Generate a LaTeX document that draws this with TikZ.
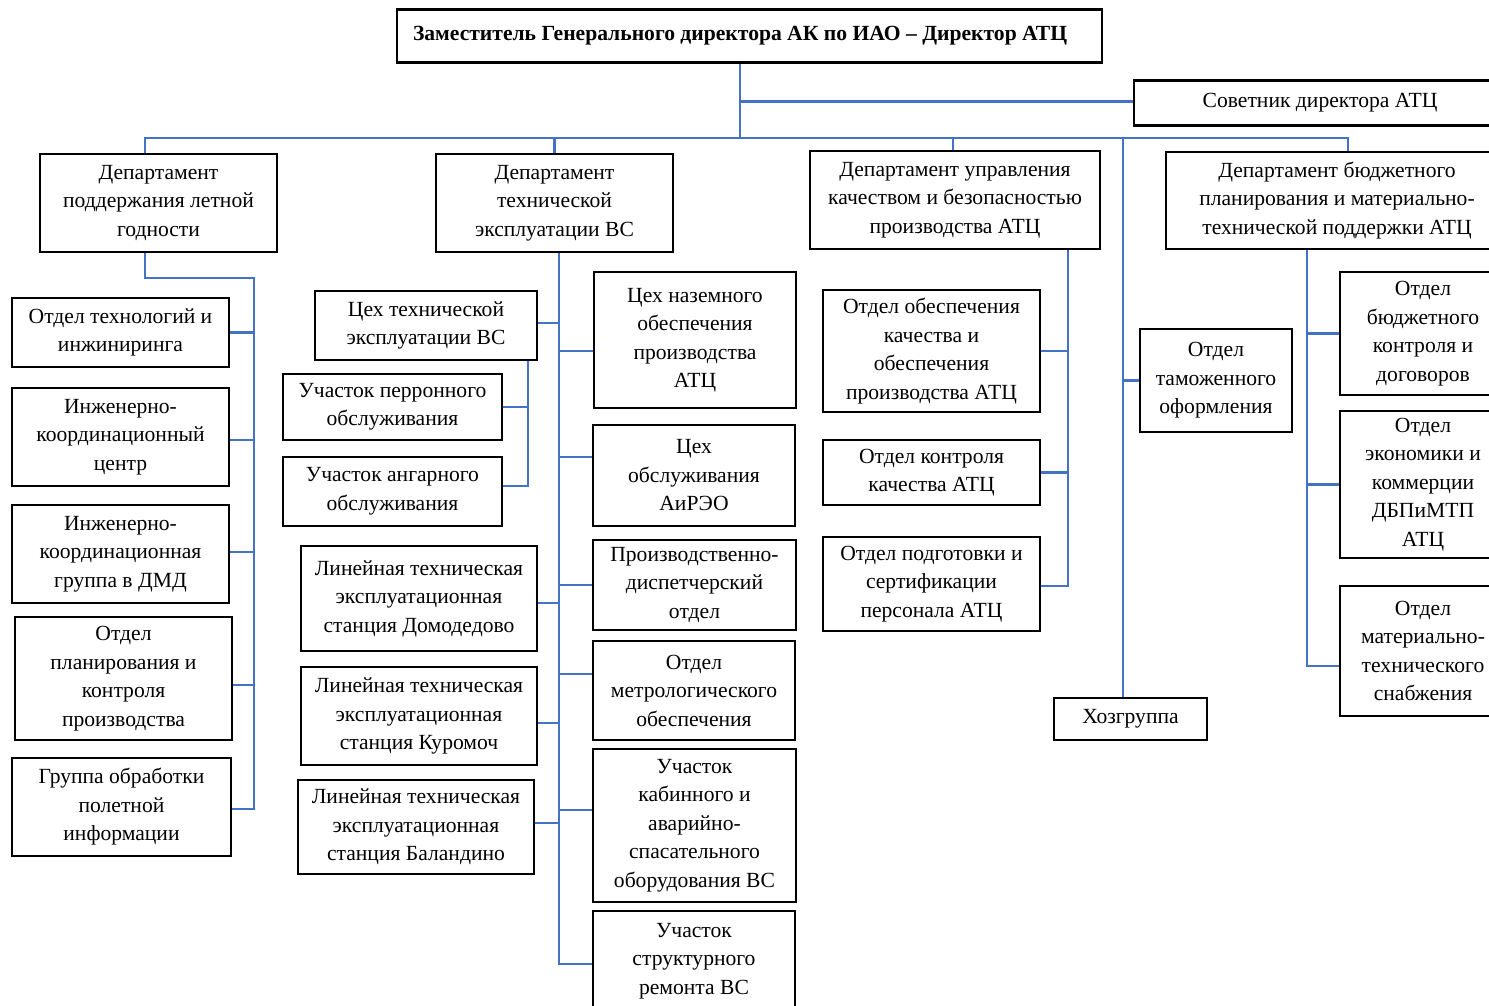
\documentclass[tikz,border=0pt]{standalone}
\usepackage{fontspec}
\setmainfont{Liberation Serif}
\definecolor{linkblue}{RGB}{68,114,196}
\tikzset{
  unit/.style={draw, line width=2.5pt, align=center, inner sep=0pt, font=\fontsize{21.6}{28.5}\selectfont},
  sz/.style 2 args={minimum width=#1, minimum height=#2},
  link/.style={draw=linkblue, line width=2.2pt}
}

\begin{document}
\begin{tikzpicture}[x=1pt, y=-1pt]
  \fill[white] (0,0) rectangle (1489,1006);
  \useasboundingbox (0,0) rectangle (1489,1006);
  \clip (0,0) rectangle (1489,1006);

  % Top
  \node[unit, minimum height=53, text width=673, inner xsep=16, align=flush left,
        font=\fontsize{21.6}{28.5}\selectfont\bfseries] (top) at (749.5,36) {Заместитель Генерального директора АК по ИАО – Директор АТЦ};
  \node[unit, sz={372}{45}] (sov) at (1320,103) {Советник директора АТЦ};
  \coordinate (bus) at (740,138);

  % Departments
  \node[unit, sz={237}{98}] (d1) at (158.5,203) {Департамент\\поддержания летной\\годности};
  \node[unit, sz={237}{98}] (d2) at (554.5,203) {Департамент\\технической\\эксплуатации ВС};
  \node[unit, sz={290}{98}] (d3) at (955,200) {Департамент управления\\качеством и безопасностью\\производства АТЦ};
  \node[unit, sz={342}{97}] (d4) at (1337,200.5) {Департамент бюджетного\\планирования и материально-\\технической поддержки АТЦ};
  \node[unit, sz={153}{42}] (hoz) at (1130.5,719) {Хозгруппа};
  \node[unit, sz={152}{103}] (tam) at (1216,380.5) {Отдел\\таможенного\\оформления};

  \draw[link] ([xshift=-9.5]top.south) -- (bus);
  \draw[link] ([xshift=-9.5]top.south) |- ([yshift=1.5]sov.west);
  \draw[link] ([xshift=-13.5]d1.north) |- (bus) -| ([xshift=11]d4.north);
  \draw[link] (d2.north) |- (bus);
  \draw[link] ([xshift=-2]d3.north) |- (bus);
  \draw[link] ([xshift=-7.5]hoz.north) coordinate (hz) |- (bus);
  \draw[link] (tam.west) -| (hz);

  % Flight support
  \node[unit, sz={217}{69}] (c1) at (120.5,332.5) {Отдел технологий и\\инжиниринга};
  \node[unit, sz={217}{98}] (c2) at (120.5,437) {Инженерно-\\координационный\\центр};
  \node[unit, sz={217}{98}] (c3) at (120.5,554) {Инженерно-\\координационная\\группа в ДМД};
  \node[unit, sz={217}{123}] (c4) at (123.5,678.5) {Отдел\\планирования и\\контроля\\производства};
  \node[unit, sz={219}{98}] (c5) at (121.5,807) {Группа обработки\\полетной\\информации};
  \coordinate (s1) at (254,278);
  \draw[link] ([xshift=-13.5]d1.south) |- (s1) -- (s1 |- c5.east);
  \foreach \n/\s in {c1/0, c2/-3, c3/2, c4/-6.5, c5/-2}
    \draw[link] ([yshift=\s]\n.east) -| (s1);

  % Aircraft maintenance
  \node[unit, sz={222}{69}] (f1) at (426,325.5) {Цех технической\\эксплуатации ВС};
  \node[unit, sz={219}{66}] (f2) at (392.5,407) {Участок перронного\\обслуживания};
  \node[unit, sz={219}{69}] (f3) at (392.5,491.5) {Участок ангарного\\обслуживания};
  \node[unit, sz={236}{105}] (f4) at (419,598.5) {Линейная техническая\\эксплуатационная\\станция Домодедово};
  \node[unit, sz={236}{98}] (f5) at (419,716) {Линейная техническая\\эксплуатационная\\станция Куромоч};
  \node[unit, sz={236}{94}] (f6) at (416,827) {Линейная техническая\\эксплуатационная\\станция Баландино};
  \node[unit, sz={202}{136}] (e1) at (695,340) {Цех наземного\\обеспечения\\производства\\АТЦ};
  \node[unit, sz={202}{101}] (e2) at (694,475.5) {Цех\\обслуживания\\АиРЭО};
  \node[unit, sz={203}{90}] (e3) at (694.5,585) {Производственно-\\диспетчерский\\отдел};
  \node[unit, sz={202}{99}] (e4) at (694,690.5) {Отдел\\метрологического\\обеспечения};
  \node[unit, sz={203}{153}] (e5) at (694.5,825.5) {Участок\\кабинного и\\аварийно-\\спасательного\\оборудования ВС};
  \node[unit, sz={202}{100}] (e6) at (694,961) {Участок\\структурного\\ремонта ВС};
  \coordinate (t2) at (559,963);
  \draw[link] ([xshift=4.5]d2.south) -- (t2);
  \foreach \n/\s in {e1/-11, e2/18.5, e3/0, e4/16.5, e5/15.5, e6/-3}
    \draw[link] ([yshift=\s]\n.west) -| (t2);
  \foreach \n/\s in {f1/2.5, f4/-4.5, f5/-7, f6/4}
    \draw[link] ([yshift=\s]\n.east) -| (t2);
  \draw[link] ([xshift=102]f1.south) coordinate (k1) |- ([yshift=5.5]f3.east);
  \draw[link] (f2.east) -| (k1);

  % Quality and safety
  \node[unit, sz={217}{122}] (g1) at (931.5,351) {Отдел обеспечения\\качества и\\обеспечения\\производства АТЦ};
  \node[unit, sz={217}{65}] (g2) at (931.5,472.5) {Отдел контроля\\качества АТЦ};
  \node[unit, sz={217}{94}] (g3) at (931.5,584) {Отдел подготовки и\\сертификации\\персонала АТЦ};
  \draw[link] ([xshift=113]d3.south) coordinate (k3) |- ([yshift=-2]g3.east);
  \foreach \n in {g1,g2}
    \draw[link] (\n.east) -| (k3);

  % Budget planning
  \node[unit, sz={166}{123}] (h1) at (1423,333.5) {Отдел\\бюджетного\\контроля и\\договоров};
  \node[unit, sz={166}{147}] (h2) at (1423,484.5) {Отдел\\экономики и\\коммерции\\ДБПиМТП\\АТЦ};
  \node[unit, sz={166}{130}] (h3) at (1423,651) {Отдел\\материально-\\технического\\снабжения};
  \draw[link] ([xshift=-30]d4.south) coordinate (k4) |- ([yshift=-15]h3.west);
  \foreach \n in {h1,h2}
    \draw[link] (\n.west) -| (k4);
\end{tikzpicture}
\end{document}
